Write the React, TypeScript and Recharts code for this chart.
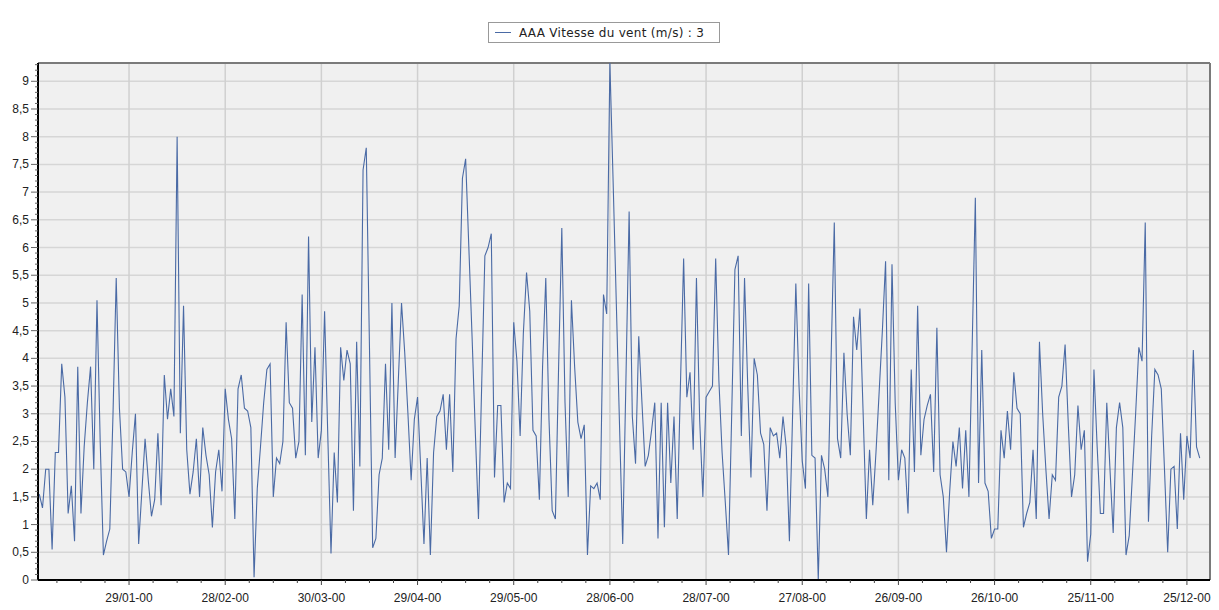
import { CartesianGrid, Line, LineChart, ReferenceLine, XAxis, YAxis } from 'recharts'

// daily wind speed, one value per day starting 01/01
const windSpeed = [
  1.55, 1.3, 2.0, 2.0, 0.55, 2.3, 2.3, 3.9, 3.3, 1.2,
  1.7, 0.7, 3.85, 1.2, 2.4, 3.2, 3.85, 2.0, 5.05, 2.5,
  0.45, 0.7, 0.92, 3.0, 5.45, 3.1, 2.0, 1.95, 1.5, 2.3,
  3.0, 0.65, 1.6, 2.55, 1.8, 1.15, 1.45, 2.65, 1.35, 3.7,
  2.9, 3.45, 2.95, 8.0, 2.65, 4.95, 2.35, 1.55, 1.95, 2.55,
  1.5, 2.75, 2.25, 1.9, 0.95, 1.95, 2.35, 1.6, 3.45, 2.9,
  2.55, 1.1, 3.45, 3.7, 3.1, 3.05, 2.75, 0.05, 1.65, 2.4,
  3.2, 3.8, 3.9, 1.5, 2.2, 2.1, 2.5, 4.65, 3.2, 3.1,
  2.2, 2.5, 5.15, 2.25, 6.2, 2.85, 4.2, 2.2, 2.7, 4.85,
  2.6, 0.48, 2.3, 1.4, 4.2, 3.6, 4.15, 3.9, 1.25, 4.3,
  2.05, 7.4, 7.8, 4.2, 0.58, 0.75, 1.9, 2.2, 3.9, 2.35,
  5.0, 2.2, 3.6, 5.0, 4.1, 3.0, 1.8, 2.9, 3.3, 2.0,
  0.65, 2.2, 0.45, 2.3, 2.95, 3.05, 3.35, 2.35, 3.35, 1.95,
  4.35, 4.95, 7.25, 7.6, 6.0, 4.4, 2.7, 1.1, 3.5, 5.85,
  6.0, 6.25, 1.85, 3.15, 3.15, 1.4, 1.75, 1.65, 4.65, 3.95,
  2.6, 4.45, 5.55, 4.85, 2.7, 2.6, 1.45, 3.85, 5.45, 2.9,
  1.25, 1.1, 3.85, 6.35, 3.2, 1.5, 5.05, 3.85, 2.85, 2.55,
  2.8, 0.45, 1.7, 1.65, 1.75, 1.45, 5.15, 4.8, 9.33, 7.2,
  5.0, 2.8, 0.65, 3.6, 6.65, 2.95, 2.1, 4.4, 3.2, 2.05,
  2.25, 2.7, 3.2, 0.75, 3.2, 0.95, 3.2, 1.75, 2.95, 1.1,
  3.5, 5.8, 3.3, 3.75, 2.35, 5.45, 2.9, 1.5, 3.3, 3.4,
  3.5, 5.8, 3.6, 2.3, 1.4, 0.45, 3.0, 5.6, 5.85, 2.6,
  5.45, 3.5, 1.85, 4.0, 3.7, 2.65, 2.45, 1.25, 2.75, 2.6,
  2.65, 2.2, 2.95, 2.4, 0.7, 3.0, 5.35, 3.5, 2.15, 1.65,
  5.35, 2.25, 2.2, 0.0, 2.25, 2.0, 1.5, 4.0, 6.45, 2.55,
  2.2, 4.1, 3.0, 2.25, 4.75, 4.15, 4.9, 3.0, 1.1, 2.35,
  1.35, 2.3, 3.4, 4.5, 5.75, 1.8, 5.7, 3.2, 1.8, 2.35,
  2.2, 1.2, 3.8, 1.95, 4.95, 2.25, 2.9, 3.15, 3.35, 1.95,
  4.55, 1.9, 1.5, 0.5, 1.6, 2.5, 2.05, 2.75, 1.65, 2.7,
  1.5, 4.2, 6.9, 1.75, 4.15, 1.75, 1.6, 0.75, 0.92, 0.92,
  2.7, 2.2, 3.05, 2.35, 3.75, 3.1, 3.0, 0.95, 1.2, 1.4,
  2.35, 1.1, 4.3, 3.0, 2.0, 1.1, 1.9, 1.8, 3.3, 3.5,
  4.25, 2.8, 1.5, 1.9, 3.15, 2.35, 2.7, 0.33, 0.83, 3.8,
  2.4, 1.2, 1.2, 3.2, 2.0, 0.85, 2.75, 3.2, 2.75, 0.45,
  0.8, 1.9, 3.0, 4.2, 3.95, 6.45, 1.05, 2.6, 3.8, 3.7,
  3.45, 2.0, 0.5, 2.0, 2.05, 0.92, 2.65, 1.45, 2.6, 2.2,
  4.15, 2.4, 2.2,
]

const tickDays = [28, 58, 88, 118, 148, 178, 208, 238, 268, 298, 328, 358]
const tickLabels = [
  '29/01-00', '28/02-00', '30/03-00', '29/04-00', '29/05-00', '28/06-00',
  '28/07-00', '27/08-00', '26/09-00', '26/10-00', '25/11-00', '25/12-00',
]
const yTicks = [0, 0.5, 1, 1.5, 2, 2.5, 3, 3.5, 4, 4.5, 5, 5.5, 6, 6.5, 7, 7.5, 8, 8.5, 9]
const seriesName = 'AAA Vitesse du vent (m/s) : 3'

const X_MIN = -0.4
const X_MAX = 365.2
const Y_MAX = 9.33
const FONT = '"Liberation Sans", Arial, sans-serif'
const LINE_COLOR = '#4a6aa5'

const data = windSpeed.map((v, day) => ({ day, v }))

// minor ticks every quarter of a 30-day step
const xMinor: number[] = []
for (let k = -3; 28 + 7.5 * k <= 365; k++) xMinor.push(28 + 7.5 * k)

const yMinor: number[] = []
for (let i = 0; i <= 93; i++) yMinor.push(i / 10)

function XTick({ x, y, payload }: any) {
  const i = tickDays.indexOf(payload.value)
  if (i < 0) {
    return <line x1={x} x2={x} y1={y} y2={y + 3} stroke="#444" />
  }
  return (
    <g>
      <line x1={x} x2={x} y1={y} y2={y + 5} stroke="#444" />
      <text x={x} y={y + 22} textAnchor="middle" fontSize={12} fontFamily={FONT} fill="#222">
        {tickLabels[i]}
      </text>
    </g>
  )
}

function YTick({ x, y, payload }: any) {
  const v = payload.value
  const major = Math.abs(v * 2 - Math.round(v * 2)) < 1e-6
  if (!major) {
    return <line x1={x - 3} x2={x} y1={y} y2={y} stroke="#666" />
  }
  return (
    <g>
      <line x1={x - 7} x2={x} y1={y} y2={y} stroke="#666" />
      <text x={x - 9} y={y + 4} textAnchor="end" fontSize={12} fontFamily={FONT} fill="#222">
        {String(v).replace('.', ',')}
      </text>
    </g>
  )
}

export default function App() {
  return (
    <div style={{ position: 'absolute', left: 0, top: 0, width: 1219, height: 610, background: '#fff' }}>
      <LineChart
        width={1219}
        height={610}
        data={data}
        margin={{ top: 63, right: 9, bottom: 0, left: 0 }}
      >
        <CartesianGrid fill="#f0f0f0" horizontal={false} vertical={false} />
        {yTicks.map((t) => (
          <ReferenceLine key={'h' + t} y={t} stroke="#d6d6d6" strokeWidth={1.5} />
        ))}
        {tickDays.map((d) => (
          <ReferenceLine key={'v' + d} x={d} stroke="#d0d0d0" strokeWidth={1.5} />
        ))}
        <ReferenceLine y={Y_MAX} stroke="#7a7a7a" strokeWidth={2} />
        <ReferenceLine x={X_MAX} stroke="#7a7a7a" strokeWidth={2} />
        <XAxis
          type="number"
          dataKey="day"
          domain={[X_MIN, X_MAX]}
          ticks={xMinor}
          interval={0}
          height={30}
          tickSize={0}
          tickMargin={0}
          tick={<XTick />}
          axisLine={{ stroke: '#000', strokeWidth: 2 }}
          allowDataOverflow
        />
        <YAxis
          type="number"
          domain={[0, Y_MAX]}
          ticks={yMinor}
          interval={0}
          width={38}
          tickSize={0}
          tickMargin={0}
          tick={<YTick />}
          axisLine={{ stroke: '#000', strokeWidth: 2 }}
          allowDataOverflow
        />
        <Line
          type="linear"
          dataKey="v"
          stroke={LINE_COLOR}
          strokeWidth={1.1}
          dot={false}
          isAnimationActive={false}
        />
      </LineChart>
      <div
        style={{
          position: 'absolute',
          left: 488,
          top: 22,
          width: 230,
          height: 19,
          border: '1px solid #999',
          background: '#fff',
          fontFamily: '"DejaVu Sans", Verdana, sans-serif',
          fontSize: 12,
          letterSpacing: 0.3,
          color: '#222',
          display: 'flex',
          alignItems: 'center',
          boxSizing: 'content-box',
        }}
      >
        <span style={{ display: 'inline-block', width: 16, height: 1, background: LINE_COLOR, marginLeft: 6, marginRight: 8 }} />
        <span style={{ whiteSpace: 'nowrap' }}>{seriesName}</span>
      </div>
    </div>
  )
}
